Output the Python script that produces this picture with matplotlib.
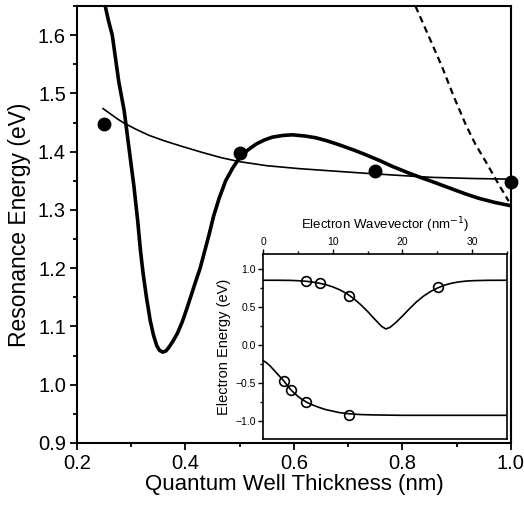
import matplotlib
matplotlib.use("Agg")
import matplotlib.pyplot as plt
from matplotlib.ticker import MultipleLocator

plt.rcParams.update({
    "font.family": ["Liberation Sans", "DejaVu Sans"],
    "axes.linewidth": 1.5,
    "xtick.direction": "out", "ytick.direction": "out",
})

# --- main panel data ---
meas_t = [0.25, 0.50, 0.75, 1.00]
meas_e = [1.447, 1.397, 1.367, 1.348]

fit_t = [0.248, 0.26, 0.275, 0.287, 0.31, 0.333, 0.36, 0.394, 0.43, 0.465, 0.499,
         0.55, 0.609, 0.67, 0.732, 0.80, 0.854, 0.93, 0.996]
fit_e = [1.474, 1.466, 1.456, 1.449, 1.438, 1.428, 1.419, 1.409, 1.399, 1.390, 1.383,
         1.376, 1.371, 1.367, 1.363, 1.359, 1.356, 1.354, 1.353]

model_t = [0.252, 0.258, 0.265, 0.271, 0.277, 0.287, 0.296, 0.305, 0.312, 0.317, 0.322,
           0.328, 0.335, 0.341, 0.347, 0.352, 0.358, 0.364, 0.370, 0.377, 0.385, 0.394,
           0.403, 0.411, 0.419, 0.427, 0.435, 0.443, 0.452, 0.462, 0.474, 0.487, 0.50,
           0.515, 0.53, 0.545, 0.56, 0.58, 0.597, 0.62, 0.64, 0.66, 0.683, 0.71, 0.732,
           0.76, 0.781, 0.81, 0.83, 0.86, 0.886, 0.915, 0.941, 0.97, 0.996]
model_e = [1.650, 1.625, 1.600, 1.560, 1.520, 1.470, 1.405, 1.340, 1.280, 1.230, 1.190,
           1.150, 1.110, 1.085, 1.067, 1.059, 1.056, 1.058, 1.065, 1.075, 1.088, 1.108,
           1.132, 1.155, 1.178, 1.200, 1.228, 1.256, 1.290, 1.320, 1.350, 1.372, 1.390,
           1.403, 1.413, 1.420, 1.425, 1.428, 1.429, 1.427, 1.424, 1.419, 1.412, 1.403, 1.395,
           1.384, 1.375, 1.364, 1.357, 1.347, 1.338, 1.328, 1.320, 1.313, 1.308]

dash_t = [0.824, 0.85, 0.873, 0.895, 0.917, 0.935, 0.953, 0.975, 0.996]
dash_e = [1.650, 1.595, 1.546, 1.494, 1.446, 1.412, 1.384, 1.348, 1.315]

# --- inset data ---
up_k = [0, 2, 4, 5, 6, 7, 8, 9, 10, 11, 12, 13, 14, 15, 16, 17, 17.6, 18.2, 19, 20,
        21, 22, 23, 24, 25, 26, 27, 28, 29, 30, 32, 35]
up_e = [0.855, 0.855, 0.853, 0.849, 0.843, 0.833, 0.818, 0.797, 0.768, 0.730, 0.680,
        0.615, 0.535, 0.445, 0.345, 0.250, 0.215, 0.235, 0.295, 0.385, 0.480, 0.570,
        0.645, 0.705, 0.752, 0.790, 0.815, 0.832, 0.843, 0.849, 0.854, 0.855]
up_pk = [6.1, 8.2, 12.4, 25.1]
up_pe = [0.84, 0.815, 0.65, 0.76]

lo_k = [0, 0.5, 1, 1.5, 2, 2.5, 3, 3.5, 4, 4.5, 5, 5.5, 6.2, 7, 8, 9, 10, 11, 12.4,
        14, 16, 20, 25, 35]
lo_e = [-0.20, -0.23, -0.27, -0.32, -0.37, -0.42, -0.47, -0.53, -0.585, -0.63, -0.67,
        -0.705, -0.745, -0.78, -0.815, -0.845, -0.865, -0.885, -0.90, -0.91, -0.915,
        -0.92, -0.92, -0.92]
lo_pk = [3.0, 4.0, 6.2, 12.4]
lo_pe = [-0.47, -0.59, -0.75, -0.91]

fig = plt.figure(figsize=(5.24, 5.08), dpi=100)
ax = fig.add_axes([0.147, 0.128, 0.828, 0.860])

ax.plot(model_t, model_e, color="black", lw=2.6, solid_joinstyle="round")
ax.plot(fit_t, fit_e, color="black", lw=1.2)
ax.plot(dash_t, dash_e, color="black", lw=1.6, ls=(0, (3, 2)))
ax.plot(meas_t, meas_e, "o", color="black", ms=9, clip_on=False, zorder=5)

ax.set_xlim(0.2, 1.0)
ax.set_ylim(0.9, 1.65)
ax.xaxis.set_major_locator(MultipleLocator(0.2))
ax.xaxis.set_minor_locator(MultipleLocator(0.1))
ax.yaxis.set_major_locator(MultipleLocator(0.1))
ax.yaxis.set_minor_locator(MultipleLocator(0.05))
ax.tick_params(which="major", length=5, width=1.3, labelsize=14.5, pad=3)
ax.tick_params(which="minor", length=3, width=1.3)
ax.set_xlabel("Quantum Well Thickness (nm)", fontsize=16, labelpad=1)
ax.set_ylabel("Resonance Energy (eV)", fontsize=16.5, labelpad=5)

# inset
ins = fig.add_axes([0.502, 0.136, 0.4656, 0.364])
ins.plot(up_k, up_e, color="black", lw=1.2)
ins.plot(lo_k, lo_e, color="black", lw=1.2)
ins.plot(up_pk, up_pe, "o", mfc="none", mec="black", mew=1.2, ms=7)
ins.plot(lo_pk, lo_pe, "o", mfc="none", mec="black", mew=1.2, ms=7)
ins.set_xlim(0, 35)
ins.set_ylim(-1.23, 1.2)
ins.xaxis.tick_top()
ins.xaxis.set_label_position("top")
ins.xaxis.set_major_locator(MultipleLocator(10))
ins.xaxis.set_minor_locator(MultipleLocator(5))
ins.yaxis.set_major_locator(MultipleLocator(0.5))
ins.yaxis.set_minor_locator(MultipleLocator(0.25))
for sp in ins.spines.values():
    sp.set_linewidth(1.2)
ins.tick_params(which="major", length=3.5, width=1.0, labelsize=7.5, pad=1.5)
ins.tick_params(which="minor", length=2, width=1.0)
ins.set_xlabel("Electron Wavevector (nm$^{-1}$)", fontsize=9.5, labelpad=5.5)
ins.set_ylabel("Electron Energy (eV)", fontsize=10.5, labelpad=3)

fig.savefig("out.png", dpi=100)
